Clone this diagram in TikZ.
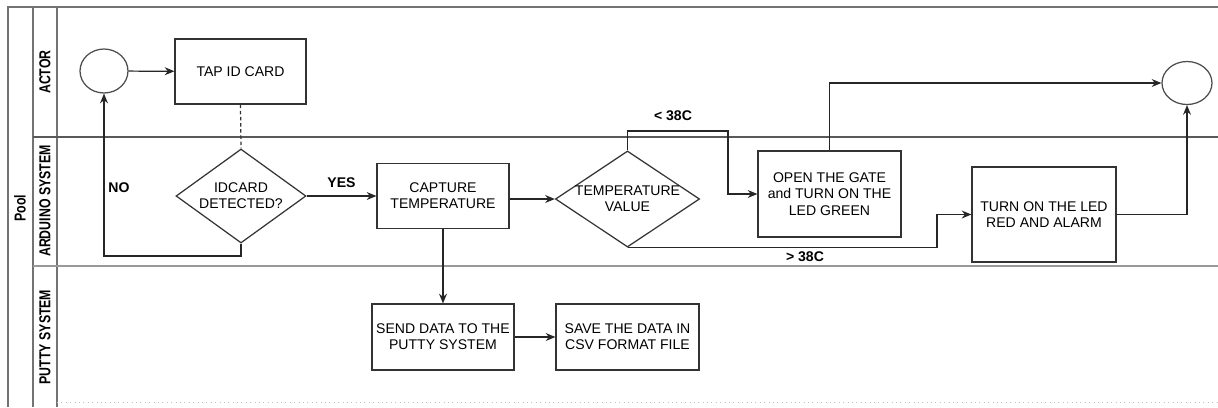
\documentclass[tikz,border=0pt]{standalone}
\usepackage{fontspec}
\setmainfont{Liberation Sans}
\usetikzlibrary{shapes.geometric,arrows.meta}
\begin{document}
\begin{tikzpicture}[x=0.02cm,y=-0.02cm,
  every node/.style={font=\fontsize{8}{9.2}\selectfont},
  box/.style={draw=black!80,line width=0.7pt,rectangle,align=center,inner sep=1pt},
  dec/.style={draw=black!80,line width=0.7pt,diamond,align=center,inner sep=0pt},
  ev/.style={draw=black!70,line width=0.7pt,ellipse,inner sep=0pt},
  flow/.style={draw=black!85,line width=0.7pt,-{Stealth[length=5.5pt,width=4.5pt]}},
  lab/.style={font=\bfseries\fontsize{8}{9.2}\selectfont},
  lanetxt/.style={rotate=90,font=\bfseries\fontsize{9}{10}\selectfont},
  poolline/.style={draw=black!55,line width=0.8pt},
  laneline/.style={draw=black!65,line width=0.9pt}]
\useasboundingbox (0,0) rectangle (1218,407);
\fill[white] (0,0) rectangle (1218,407);
% pool frame
\draw[poolline] (8,407) -- (8,7) -- (1218,7);
\draw[poolline] (33,7) -- (33,407);
\draw[poolline] (57,7) -- (57,407);
\draw[laneline] (33,137) -- (1218,137);
\draw[poolline,draw=black!40] (33,266) -- (1218,266);
\draw[draw=black!25,dotted,line width=0.5pt] (57,402) -- (1218,402);
% lane labels
\node[lanetxt] (pool) at (20,208) {\scalebox{0.78}[1]{Pool}};
\node[lanetxt] (actor) at (45,72) {\scalebox{0.78}[1]{ACTOR}};
\node[lanetxt] (ard) at (45,201) {\scalebox{0.78}[1]{ARDUINO SYSTEM}};
\node[lanetxt] (putty) at (45,337) {\scalebox{0.78}[1]{PUTTY SYSTEM}};
% nodes
\node[ev,minimum width=0.96cm,minimum height=0.88cm] (start) at (104,71) {};
\node[box,minimum width=2.62cm,minimum height=1.30cm] (tap) at (240.5,71.5) {TAP ID CARD};
\node[dec,aspect=1.38,minimum width=2.60cm,minimum height=1.88cm] (idc) at (241,196) {IDCARD\\DETECTED?};
\node[box,minimum width=2.64cm,minimum height=1.30cm] (cap) at (443,196) {CAPTURE\\TEMPERATURE};
\node[dec,aspect=1.5,minimum width=2.82cm,minimum height=1.88cm] (temp) at (627.5,199) {TEMPERATURE\\VALUE};
\node[box,minimum width=2.86cm,minimum height=1.72cm] (open) at (829.5,194) {OPEN THE GATE\\and TURN ON THE\\LED GREEN};
\node[box,minimum width=2.88cm,minimum height=1.90cm] (alarm) at (1044,214.5) {TURN ON THE LED\\RED AND ALARM};
\node[ev,minimum width=1.0cm,minimum height=0.86cm] (end) at (1187,83) {};
\node[box,minimum width=2.84cm,minimum height=1.32cm] (send) at (443,337) {SEND DATA TO THE\\PUTTY SYSTEM};
\node[box,minimum width=2.86cm,minimum height=1.32cm] (save) at (627.5,337) {SAVE THE DATA IN\\CSV FORMAT FILE};
% connectors
\draw[flow] (start) -- (tap);
\draw[draw=black!80,line width=0.7pt,dash pattern=on 2pt off 1.5pt] (tap.south) -- (idc.north);
\draw[flow] (idc.east) -- (cap.west) node[lab,midway,above=1pt] (yes) {YES};
\coordinate (nob) at (241,256);
\draw[flow] (idc.south) -- (nob) -| (start.south);
\node[lab] (no) at (119,188) {NO};
\draw[flow] (temp.west -| cap.east) -- (temp.west);
\coordinate (lt) at (728,131);
\draw[flow] (temp.north) |- (lt) |- (open.west);
\node[lab] (ltl) at (673,116) {\textless{} 38C};
\coordinate (gt) at (937,246);
\draw[flow] (temp.south) -- (temp.south -| gt) |- (alarm.west);
\node[lab] (gtl) at (805,257) {\textgreater{} 38C};
\draw[flow] (open.north) |- (end.west);
\draw[flow] (alarm.east) -| (end.south);
\draw[flow] (cap.south) -- (send.north);
\draw[flow] (send.east) -- (save.west);
\end{tikzpicture}
\end{document}
